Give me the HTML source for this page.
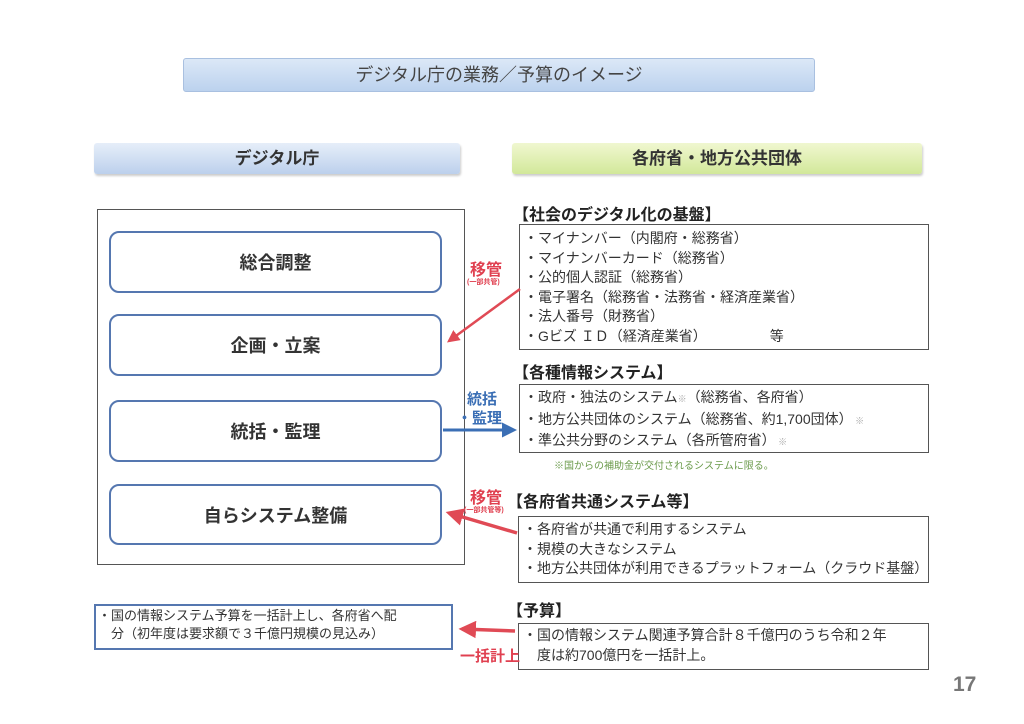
<!DOCTYPE html>
<html><head><meta charset="utf-8"><style>
body{margin:0;width:1024px;height:724px;background:#fff;position:relative;overflow:hidden;font-family:"Liberation Sans","Noto Sans CJK JP",sans-serif;color:#333}
.a{position:absolute;white-space:nowrap}
.box{position:absolute;border:1px solid #555;box-sizing:border-box}
.rb{position:absolute;border:2px solid #5577b0;border-radius:10px;box-sizing:border-box;display:flex;align-items:center;justify-content:center;font-weight:bold;font-size:18px;color:#333}
.li{font-size:14px;line-height:19.5px;color:#333}
.h{font-weight:bold;font-size:16px;color:#222}
.red{color:#e04050;font-weight:bold}
.blue{color:#3b6fb5;font-weight:bold}
</style></head><body>
<div class="a" style="left:183px;top:58px;width:632px;height:34px;background:linear-gradient(#dce8f7,#bcd2ee);border:1px solid #a9c0e0;border-radius:3px;box-sizing:border-box;text-align:center;line-height:32px;font-size:18px;color:#444">デジタル庁の業務／予算のイメージ</div>
<div class="a" style="left:94px;top:143px;width:366px;height:31px;background:linear-gradient(#e6eef9,#bcd0ec);border-radius:3px;text-align:center;line-height:31px;font-size:17px;font-weight:bold;color:#333;box-shadow:1px 2px 2px #ccc">デジタル庁</div>
<div class="a" style="left:512px;top:143px;width:410px;height:31px;background:linear-gradient(#f0f7d0,#d2e89a);border-radius:3px;text-align:center;line-height:31px;font-size:17px;font-weight:bold;color:#333;box-shadow:1px 2px 2px #ccc">各府省・地方公共団体</div>

<div class="box" style="left:97px;top:209px;width:368px;height:356px"></div>
<div class="rb" style="left:109px;top:231px;width:333px;height:62px">総合調整</div>
<div class="rb" style="left:109px;top:314px;width:333px;height:62px">企画・立案</div>
<div class="rb" style="left:109px;top:400px;width:333px;height:62px">統括・監理</div>
<div class="rb" style="left:109px;top:484px;width:333px;height:61px">自らシステム整備</div>

<div class="a h" style="left:513px;top:201px">【社会のデジタル化の基盤】</div>
<div class="box" style="left:519px;top:224px;width:410px;height:126px"></div>
<div class="a li" style="left:524px;top:229px">・マイナンバー（内閣府・総務省）<br>・マイナンバーカード（総務省）<br>・公的個人認証（総務省）<br>・電子署名（総務省・法務省・経済産業省）<br>・法人番号（財務省）<br>・Gビズ ＩＤ（経済産業省）　　　　　等</div>

<div class="a red" style="left:470px;top:256px;font-size:16px">移管</div>
<div class="a red" style="left:467px;top:277px;font-size:7px">(一部共管)</div>

<div class="a h" style="left:513px;top:359px">【各種情報システム】</div>
<div class="box" style="left:519px;top:384px;width:410px;height:69px"></div>
<div class="a li" style="left:524px;top:388px">・政府・独法のシステム<span style="color:#aaa;font-size:9px">※</span>（総務省、各府省）<br>・地方公共団体のシステム（総務省、約1,700団体）<span style="color:#aaa;font-size:9px"> ※</span><br>・準公共分野のシステム（各所管府省）<span style="color:#aaa;font-size:9px"> ※</span></div>
<div class="a" style="left:554px;top:457px;font-size:10px;color:#6a9a4a">※国からの補助金が交付されるシステムに限る。</div>

<div class="a blue" style="left:467px;top:388px;font-size:15px">統括</div>
<div class="a blue" style="left:457px;top:407px;font-size:15px">・監理</div>

<div class="a red" style="left:470px;top:484px;font-size:16px">移管</div>
<div class="a red" style="left:464px;top:505px;font-size:7px">(一部共管等)</div>
<div class="a h" style="left:507px;top:488px">【各府省共通システム等】</div>
<div class="box" style="left:518px;top:516px;width:411px;height:67px"></div>
<div class="a li" style="left:523px;top:520px">・各府省が共通で利用するシステム<br>・規模の大きなシステム<br>・地方公共団体が利用できるプラットフォーム（クラウド基盤）</div>

<div class="a h" style="left:507px;top:597px">【予算】</div>
<div class="box" style="left:518px;top:623px;width:411px;height:47px"></div>
<div class="a li" style="left:523px;top:626px">・国の情報システム関連予算合計８千億円のうち令和２年<br>　度は約700億円を一括計上。</div>

<div class="box" style="left:94px;top:604px;width:359px;height:46px;border:2px solid #5577b0"></div>
<div class="a" style="left:98px;top:607px;font-size:13px;line-height:18px;color:#333">・国の情報システム予算を一括計上し、各府省へ配<br>　分（初年度は要求額で３千億円規模の見込み）</div>
<div class="a red" style="left:460px;top:645px;font-size:15px">一括計上</div>

<div class="a" style="left:953px;top:673px;font-size:21px;font-weight:bold;color:#777">17</div>

<svg class="a" style="left:0;top:0" width="1024" height="724">
<defs>
<marker id="r" markerWidth="5" markerHeight="5" refX="4" refY="2.5" orient="auto"><path d="M0,0L5,2.5L0,5z" fill="#e04a55"/></marker>
<marker id="b" markerWidth="5" markerHeight="5" refX="4" refY="2.5" orient="auto"><path d="M0,0L5,2.5L0,5z" fill="#3b6fb5"/></marker>
</defs>
<line x1="520" y1="289" x2="449" y2="341" stroke="#e04a55" stroke-width="2.5" marker-end="url(#r)"/>
<line x1="443" y1="430" x2="514" y2="430" stroke="#3b6fb5" stroke-width="3" marker-end="url(#b)"/>
<line x1="517" y1="533" x2="449" y2="513" stroke="#e04a55" stroke-width="3.5" marker-end="url(#r)"/>
<line x1="515" y1="631" x2="462" y2="629" stroke="#e04a55" stroke-width="3.5" marker-end="url(#r)"/>
</svg>
</body></html>
